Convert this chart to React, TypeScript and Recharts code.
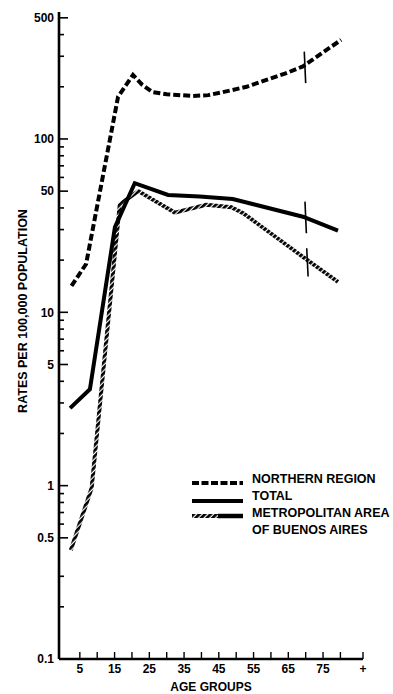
import React from 'react';
import { LineChart, Line, XAxis, YAxis, ReferenceLine, Legend, Label } from 'recharts';

// ---- data ----
const northernAges = [2.6, 6.8, 16, 20.3, 23, 26, 30, 37.6, 42, 46, 53, 58.7, 64, 69.2, 80.2];
const northernRates = [14.2, 19, 175, 234, 205, 186, 181, 177, 179, 186, 200, 219, 238, 262, 373];

const totalAges = [2.2, 7.9, 15.1, 20.8, 30.4, 39.5, 49, 69.2, 79.3];
const totalRates = [2.8, 3.6, 31, 55.6, 47.5, 46.6, 45, 35.6, 29.6];

const metroAges = [2.4, 8.4, 16.5, 21.8, 32.3, 41.4, 48.6, 52, 69.2, 79.3];
const metroRates = [0.425, 0.97, 42, 50, 37.6, 41.7, 40.4, 37.3, 20.9, 15];

// break marks drawn across each curve near age 70
const breakAges = [69.6, 69.8, 70.3];
const breakTops = [319, 43.5, 23.4];
const breakBottoms = [210, 28.6, 16.1];

const xTicks = [5, 10, 15, 20, 25, 30, 35, 40, 45, 50, 55, 60, 65, 70, 75, 80, 86.5];
const xTickLabels: Record<string, string> = {
  '5': '5', '15': '15', '25': '25', '35': '35', '45': '45', '55': '55', '65': '65', '75': '75', '86.5': '+',
};
const yTicks = [0.1, 0.2, 0.3, 0.5, 0.6, 0.7, 0.8, 0.9, 1, 2, 3, 4, 5, 6, 7, 8, 9, 10, 20, 30, 40, 50, 60, 70, 80, 90, 100, 200, 300, 400, 500];
const yTickLabels: Record<string, string> = {
  '0.1': '0.1', '0.5': '0.5', '1': '1', '5': '5', '10': '10', '50': '50', '100': '100', '500': '500',
};

const legendItems = ['NORTHERN REGION', 'TOTAL', 'METROPOLITAN AREA', 'OF BUENOS AIRES'];

const toSeries = (ages: number[], rates: number[]) => ages.map((age, i) => ({ age, rate: rates[i] }));
const northernData = toSeries(northernAges, northernRates);
const totalData = toSeries(totalAges, totalRates);
const metroData = toSeries(metroAges, metroRates);

const FONT = "'Liberation Sans', Arial, Helvetica, sans-serif";

const YTick = (props: any) => {
  const { x, y, payload } = props;
  const key = String(payload.value);
  const label = yTickLabels[key];
  const len = label ? 9 : 5;
  return (
    <g>
      <line x1={x} y1={y} x2={x + len} y2={y} stroke="#000" strokeWidth={1.6} />
      {label && (
        <text x={x - 5} y={y} dy={4.3} textAnchor="end" fontFamily={FONT} fontSize={12} fontWeight="bold" fill="#000">
          {label}
        </text>
      )}
    </g>
  );
};

const XTick = (props: any) => {
  const { x, y, payload } = props;
  const key = String(payload.value);
  const label = xTickLabels[key];
  return (
    <g>
      <line x1={x} y1={y} x2={x} y2={y - 7} stroke="#000" strokeWidth={1.4} />
      {label && (
        <text x={x} y={y + 14} textAnchor="middle" fontFamily={FONT} fontSize={12} fontWeight="bold" fill="#000">
          {label}
        </text>
      )}
    </g>
  );
};

const renderLegend = () => (
  <svg width={203} height={74}>
    <line x1={2} y1={18} x2={53} y2={18} stroke="#000" strokeWidth={4} strokeDasharray="7 2.5" />
    <line x1={2} y1={36} x2={53} y2={36} stroke="#000" strokeWidth={4} />
    <line x1={2} y1={51} x2={28} y2={51} stroke="url(#hatch)" strokeWidth={4} />
    <line x1={28} y1={51} x2={53} y2={51} stroke="#000" strokeWidth={4.5} />
    {legendItems.map((t, i) => (
      <text key={t} x={62} y={18 + i * 17} fontFamily={FONT} fontSize={12.5} fontWeight="bold" fill="#000">
        {t}
      </text>
    ))}
  </svg>
);

export default function App() {
  return (
    <div style={{ position: 'absolute', left: 0, top: 0, width: 393, height: 694, background: '#fff' }}>
      <svg width={0} height={0} style={{ position: 'absolute' }}>
        <defs>
          <pattern id="hatch" patternUnits="userSpaceOnUse" width={4} height={4} patternTransform="rotate(45)">
            <rect x={0} y={0} width={2.8} height={4} fill="#000" />
          </pattern>
        </defs>
      </svg>
      <LineChart width={393} height={694} margin={{ top: 12, right: 30, bottom: 0, left: 0 }}>
        <XAxis
          type="number"
          dataKey="age"
          domain={[-1, 86.5]}
          ticks={xTicks}
          interval={0}
          allowDataOverflow
          height={35}
          axisLine={{ stroke: '#000', strokeWidth: 2.6 }}
          tickLine={false}
          tickSize={0}
          tickMargin={0}
          tick={(p: any) => <XTick {...p} />}
        >
          <Label
            content={(p: any) => {
              const vb = p.viewBox;
              return (
                <text x={vb.x + vb.width / 2} y={vb.y + 32} textAnchor="middle" fontFamily={FONT} fontSize={12} fontWeight="bold" fill="#000">
                  AGE GROUPS
                </text>
              );
            }}
          />
        </XAxis>
        <YAxis
          type="number"
          dataKey="rate"
          scale="log"
          domain={[0.1, 540]}
          ticks={yTicks}
          interval={0}
          allowDataOverflow
          width={59}
          axisLine={{ stroke: '#000', strokeWidth: 2.6 }}
          tickLine={false}
          tickSize={0}
          tickMargin={0}
          tick={(p: any) => <YTick {...p} />}
        >
          <Label
            content={() => (
              <text x={22.5} y={311} transform="rotate(-90 22.5 311)" dy={4.3} textAnchor="middle" fontFamily={FONT} fontSize={12.5} fontWeight="bold" fill="#000">
                RATES PER 100,000 POPULATION
              </text>
            )}
          />
        </YAxis>
        <Legend
          layout="vertical"
          align="center"
          verticalAlign="middle"
          content={renderLegend}
          wrapperStyle={{ left: 190, top: 465, width: 203, height: 74 }}
        />
        <Line data={northernData} dataKey="rate" name="NORTHERN REGION" type="linear" stroke="#000" strokeWidth={4} strokeDasharray="7 3" dot={false} isAnimationActive={false} />
        <Line data={totalData} dataKey="rate" name="TOTAL" type="linear" stroke="#000" strokeWidth={4} dot={false} isAnimationActive={false} />
        <Line data={metroData} dataKey="rate" name="METROPOLITAN AREA OF BUENOS AIRES" type="linear" stroke="url(#hatch)" strokeWidth={4} dot={false} isAnimationActive={false} />
        {breakAges.map((a, i) => (
          <ReferenceLine
            key={i}
            segment={[{ x: a, y: breakTops[i] }, { x: a + 0.4, y: breakBottoms[i] }]}
            stroke="#000"
            strokeWidth={1.6}
          />
        ))}
      </LineChart>
    </div>
  );
}
